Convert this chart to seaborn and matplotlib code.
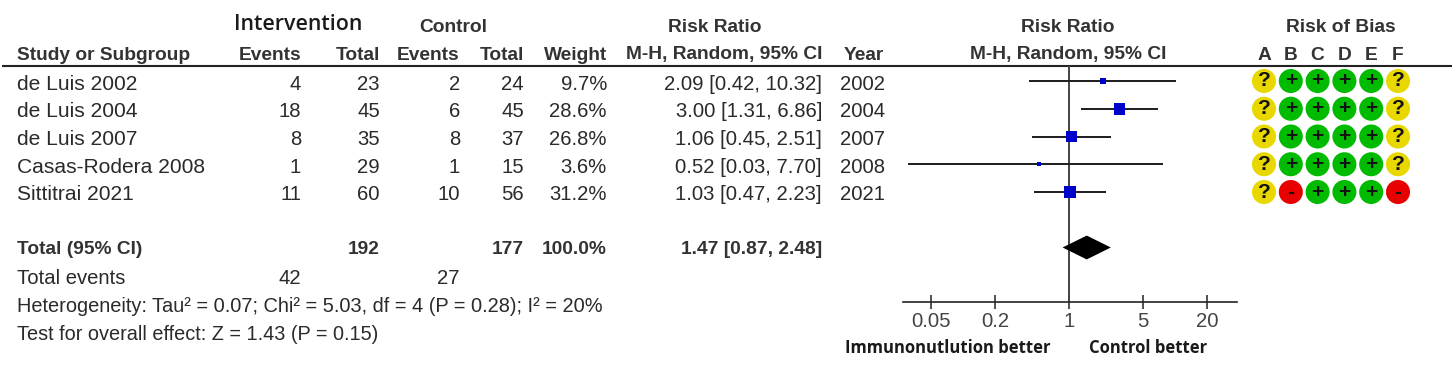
# Forest plot of risk ratios with the risk of bias traffic lights beside it

import numpy as np
import pandas as pd
import matplotlib.pyplot as plt
import seaborn as sns

sns.set_style("white")
plt.rcParams["font.family"] = ["Liberation Sans", "DejaVu Sans"]
plt.rcParams["figure.dpi"] = 100

studies = ["de Luis 2002", "de Luis 2004", "de Luis 2007", "Casas-Rodera 2008", "Sittitrai 2021"]
int_events = [4, 18, 8, 1, 11]
int_total = [23, 45, 35, 29, 60]
ctrl_events = [2, 6, 8, 1, 10]
ctrl_total = [24, 45, 37, 15, 56]
weights = [9.7, 28.6, 26.8, 3.6, 31.2]
rr = [2.09, 3.00, 1.06, 0.52, 1.03]
ci_low = [0.42, 1.31, 0.45, 0.03, 0.47]
ci_high = [10.32, 6.86, 2.51, 7.70, 2.23]
years = [2002, 2004, 2007, 2008, 2021]

total_rr = [0.87, 1.47, 2.48]
axis_ticks = [0.05, 0.2, 1, 5, 20]
axis_labels = ["0.05", "0.2", "1", "5", "20"]

domains = ["A", "B", "C", "D", "E", "F"]
bias_rows = [
    ["?", "+", "+", "+", "+", "?"],
    ["?", "+", "+", "+", "+", "?"],
    ["?", "+", "+", "+", "+", "?"],
    ["?", "+", "+", "+", "+", "?"],
    ["?", "-", "+", "+", "+", "-"],
]
bias_colors = {"?": "#e8d800", "+": "#00bb00", "-": "#e80000"}

W, H = 1452, 377
TEXT = "#2a2a2a"
HEAD = "#333333"
TITLE_FONT = ["Open Sans", "DejaVu Sans"]
BOLD = 13.75

# row 0 sits at y=81 px, rows are 27.75 px apart
ROW0, PITCH = 81, 27.75


def row_y(r):
    return ROW0 + r * PITCH


def px_axes(x0, x1, y0, y1):
    return fig.add_axes([x0 / W, 1 - y1 / H, (x1 - x0) / W, (y1 - y0) / H], facecolor="none")


fig = plt.figure(figsize=(W / 100, H / 100), dpi=100, facecolor="white")

# text layer, in pixel coordinates
tx = px_axes(0, W, 0, H)
tx.set_xlim(0, W)
tx.set_ylim(H, 0)
tx.axis("off")


def put(x, y, s, ha="right", bold=False, size=14.6, color=None):
    tx.text(
        x, y, s, ha=ha, va="center", fontsize=size,
        fontweight="bold" if bold else "normal",
        color=color or (HEAD if bold else TEXT),
    )


tx.plot([2, W], [66, 66], color="#222222", lw=1.5, solid_capstyle="butt")

tx.text(298, 24, "Intervention", ha="center", va="center", fontsize=15.4,
        fontweight=600, family=TITLE_FONT, color="#1a1a1a")
put(453, 27, "Control", ha="center", bold=True, size=BOLD)
put(715, 27, "Risk Ratio", ha="center", bold=True, size=BOLD)
put(1068, 27, "Risk Ratio", ha="center", bold=True, size=BOLD)
put(1341, 27, "Risk of Bias", ha="center", bold=True, size=BOLD)

put(17, 55, "Study or Subgroup", ha="left", bold=True, size=BOLD)
put(301, 55, "Events", bold=True, size=BOLD)
put(380, 55, "Total", bold=True, size=BOLD)
put(459, 55, "Events", bold=True, size=BOLD)
put(524, 55, "Total", bold=True, size=BOLD)
put(607, 55, "Weight", bold=True, size=BOLD)
put(822, 55, "M-H, Random, 95% CI", bold=True, size=BOLD)
put(884, 55, "Year", bold=True, size=BOLD)
put(1068, 55, "M-H, Random, 95% CI", ha="center", bold=True, size=BOLD)

for i, name in enumerate(studies):
    y = row_y(i) + 3
    put(17, y, name, ha="left", size=15.1)
    put(301, y, str(int_events[i]))
    put(380, y, str(int_total[i]))
    put(460, y, str(ctrl_events[i]))
    put(524, y, str(ctrl_total[i]))
    put(607, y, f"{weights[i]:.1f}%")
    put(822, y, f"{rr[i]:.2f} [{ci_low[i]:.2f}, {ci_high[i]:.2f}]")
    put(885, y, str(years[i]))

put(17, 249, "Total (95% CI)", ha="left", bold=True, size=BOLD)
put(380, 249, str(sum(int_total)), bold=True, size=BOLD)
put(524, 249, str(sum(ctrl_total)), bold=True, size=BOLD)
put(607, 249, "100.0%", bold=True, size=BOLD)
put(822, 249, f"{total_rr[1]:.2f} [{total_rr[0]:.2f}, {total_rr[2]:.2f}]", bold=True, size=BOLD)

put(17, 279, "Total events", ha="left")
put(301, 279, str(sum(int_events)))
put(459, 279, str(sum(ctrl_events)))
put(17, 307, "Heterogeneity: Tau² = 0.07; Chi² = 5.03, df = 4 (P = 0.28); I² = 20%", ha="left", size=14.45)
put(17, 335, "Test for overall effect: Z = 1.43 (P = 0.15)", ha="left", size=14.35)

tx.text(948, 348, "Immunonutlution better", ha="center", va="center", fontsize=12,
        fontweight="bold", family=TITLE_FONT, color="#1a1a1a")
tx.text(1148, 348, "Control better", ha="center", va="center", fontsize=12,
        fontweight="bold", family=TITLE_FONT, color="#1a1a1a")

# forest plot, the axis spans x 903-1237 px and 1 sits at 1069 px
ax = px_axes(903, 1237, 66, 302)
forest = pd.DataFrame({"rr": rr, "row": np.arange(len(rr)), "weight": weights})
ax.set_xscale("log")
ax.hlines(forest["row"], ci_low, ci_high, color="#1c1c1c", lw=1.4, zorder=2)
ax.axvline(1, color="#444444", lw=1.4, zorder=1)
sns.scatterplot(
    data=forest, x="rr", y="row", size="weight", sizes=(8, 75), marker="s",
    color="#0000cc", linewidth=0, legend=False, ax=ax, zorder=3,
)
total_row = 6
ax.fill(
    [total_rr[0], total_rr[1], total_rr[2], total_rr[1]],
    [total_row, total_row - 0.43, total_row, total_row + 0.43],
    color="black", lw=0, zorder=3,
)
ax.set_xlim(10 ** (-166 / 106), 10 ** (168 / 106))
ax.set_ylim((302 - ROW0) / PITCH, (66 - ROW0) / PITCH)
ax.set_xticks(axis_ticks)
ax.set_xticklabels(axis_labels)
ax.minorticks_off()
ax.set_yticks([])
ax.set_xlabel("")
ax.set_ylabel("")
ax.tick_params(axis="x", direction="inout", length=10, width=1.1, color="#222222",
               labelsize=14.6, labelcolor="#444444", pad=2, bottom=True)
sns.despine(ax=ax, left=True)
ax.spines["bottom"].set_color("#222222")
ax.spines["bottom"].set_linewidth(1.2)

# risk of bias circles
bx = px_axes(1250, 1412, 66, 302)
bias = pd.DataFrame(bias_rows, columns=domains)
bias["row"] = np.arange(len(bias))
bias = bias.melt(id_vars="row", var_name="domain", value_name="rating")
bias["col"] = bias["domain"].map({d: i for i, d in enumerate(domains)})
sns.scatterplot(
    data=bias, x="col", y="row", hue="rating", palette=bias_colors, s=300,
    linewidth=0, legend=False, ax=bx,
)
for _, b in bias.iterrows():
    bx.text(
        b["col"], b["row"], b["rating"], ha="center", va="center",
        fontsize=15 if b["rating"] == "?" else 15, fontweight="bold", color="#111111",
    )
bx.set_xlim(-14 / 26.8, 5 + 14 / 26.8)
bx.set_ylim((302 - ROW0) / PITCH, (66 - ROW0) / PITCH)
bx.axis("off")

for i, d in enumerate(domains):
    put(1264 + i * 26.8, 55, d, ha="center", bold=True, size=BOLD)

fig.savefig("out.png", dpi=100)
